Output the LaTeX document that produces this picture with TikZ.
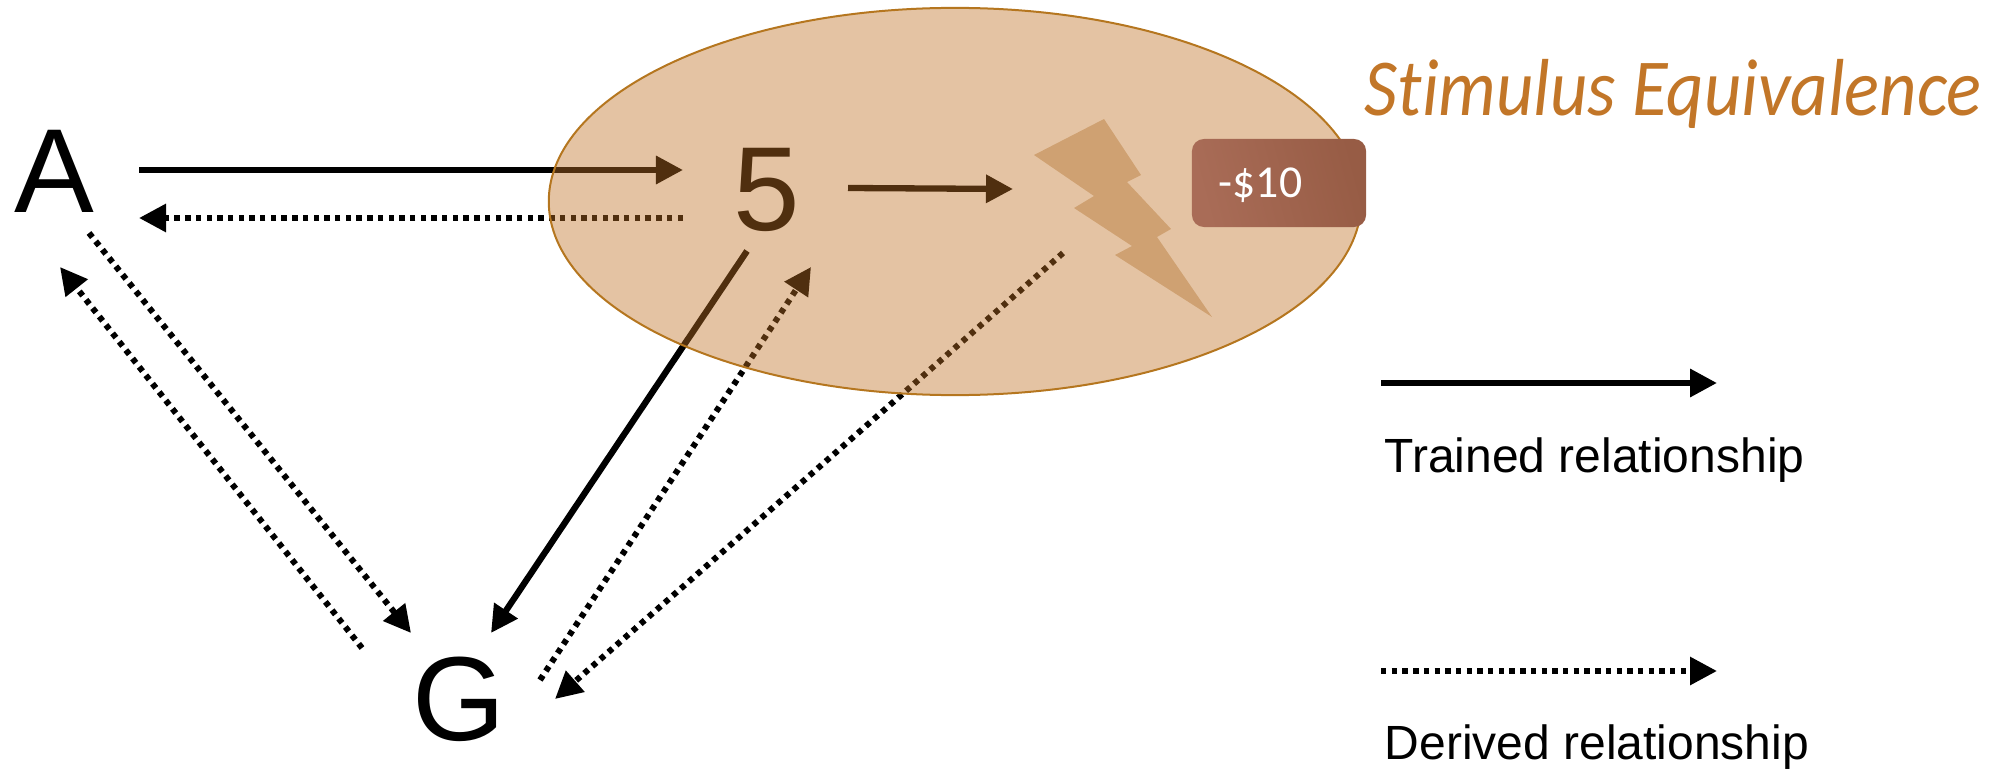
\documentclass[tikz,border=0pt]{standalone}
\usepackage{graphicx}
\usepackage{fontspec}
\setmainfont{Liberation Sans}
\newfontfamily\calibri[Ligatures=NoCommon]{Carlito}
\usetikzlibrary{arrows.meta,shapes.geometric}
\definecolor{cloudfill}{HTML}{BF7124}
\definecolor{cloudline}{HTML}{B5761F}
\definecolor{boltfill}{HTML}{CFA172}
\definecolor{finefrom}{HTML}{A96C57}
\definecolor{fineto}{HTML}{975C45}
\definecolor{titlecol}{HTML}{C27628}
\begin{document}
\begin{tikzpicture}[x=0.01cm,y=-0.01cm,
        letter/.style={font=\fontsize{34}{34}\selectfont, inner sep=0pt},
        trained/.style={line width=0.063cm, -{Triangle[length=0.27cm,width=0.27cm]}},
        derived/.style={trained, line width=0.06cm, dash pattern=on 0.054cm off 0.053cm},
        legendtext/.style={anchor=base west, inner sep=0pt, font=\fontsize{13.65}{13.65}\selectfont},
        cloud/.style={ellipse, draw=cloudline, line width=0.02cm, fill=cloudfill, fill opacity=0.42, minimum width=8.12cm, minimum height=3.87cm, inner sep=0pt},
        fine/.style={rounded corners=0.12cm, minimum width=1.74cm, minimum height=0.88cm, inner sep=0pt, shading=axis, left color=finefrom, right color=fineto, shading angle=105}]
        \useasboundingbox (0,0) rectangle (1997,770);

        \node[letter] (nA) at (54,171.5) {A};
        \node[letter] (n5) at (767,190) {5};
        \node[letter] (nG) at (459,699) {G};

        \coordinate (a1) at (139,170);
        \coordinate (a2) at (139,218);
        \coordinate (a3) at (89,233);
        \coordinate (a4) at (60,267);
        \coordinate (b1) at (683,170);
        \coordinate (b2) at (683,218);
        \coordinate (b3) at (848,188);
        \coordinate (b4) at (747,251);
        \coordinate (b5) at (811,267);
        \coordinate (c1) at (1013,189);
        \coordinate (c2) at (1063,253);
        \coordinate (g1) at (411,633);
        \coordinate (g2) at (362,648);
        \coordinate (g3) at (491,633);
        \coordinate (g4) at (540,680);
        \coordinate (g5) at (555,699);

        \draw[trained] (a1)--(b1);
        \draw[derived] (b2)--(a2);
        \draw[trained] (b3)--(c1);
        \draw[trained] (b4)--(g3);
        \draw[derived] (g4)--(b5);
        \draw[derived] (c2)--(g5);
        \draw[derived] (a3)--(g1);
        \draw[derived] (g2)--(a4);

        \node[cloud] (nCloud) at (955,201.5) {};

        \fill[boltfill] (1104,119)--(1141,175)--(1127,182)--(1171,229)--(1157,237)--(1212,317)--(1115,255)--(1132,246)--(1074,208)--(1094,196)--(1034,155)--cycle;

        \node[fine] (nFine) at (1279,183) {};
        \node[anchor=base west, inner sep=0pt, text=white, font=\calibri\fontsize{13}{13}\selectfont] (nFineText) at (1218,198) {-\$10};

        \node[anchor=base west, inner sep=0pt, text=titlecol, font=\calibri\itshape\fontsize{23}{23}\selectfont] (nTitle) at (1364,116) {\scalebox{0.9}[1]{Stimulus Equivalence}};

        \coordinate (l1) at (1381,383);
        \coordinate (l2) at (1717,383);
        \coordinate (l3) at (1381,671);
        \coordinate (l4) at (1717,671);
        \draw[trained] (l1)--(l2);
        \draw[derived] (l3)--(l4);
        \node[legendtext] (nTrained) at (1384,472) {Trained relationship};
        \node[legendtext] (nDerived) at (1384,759) {Derived relationship};
\end{tikzpicture}
\end{document}
